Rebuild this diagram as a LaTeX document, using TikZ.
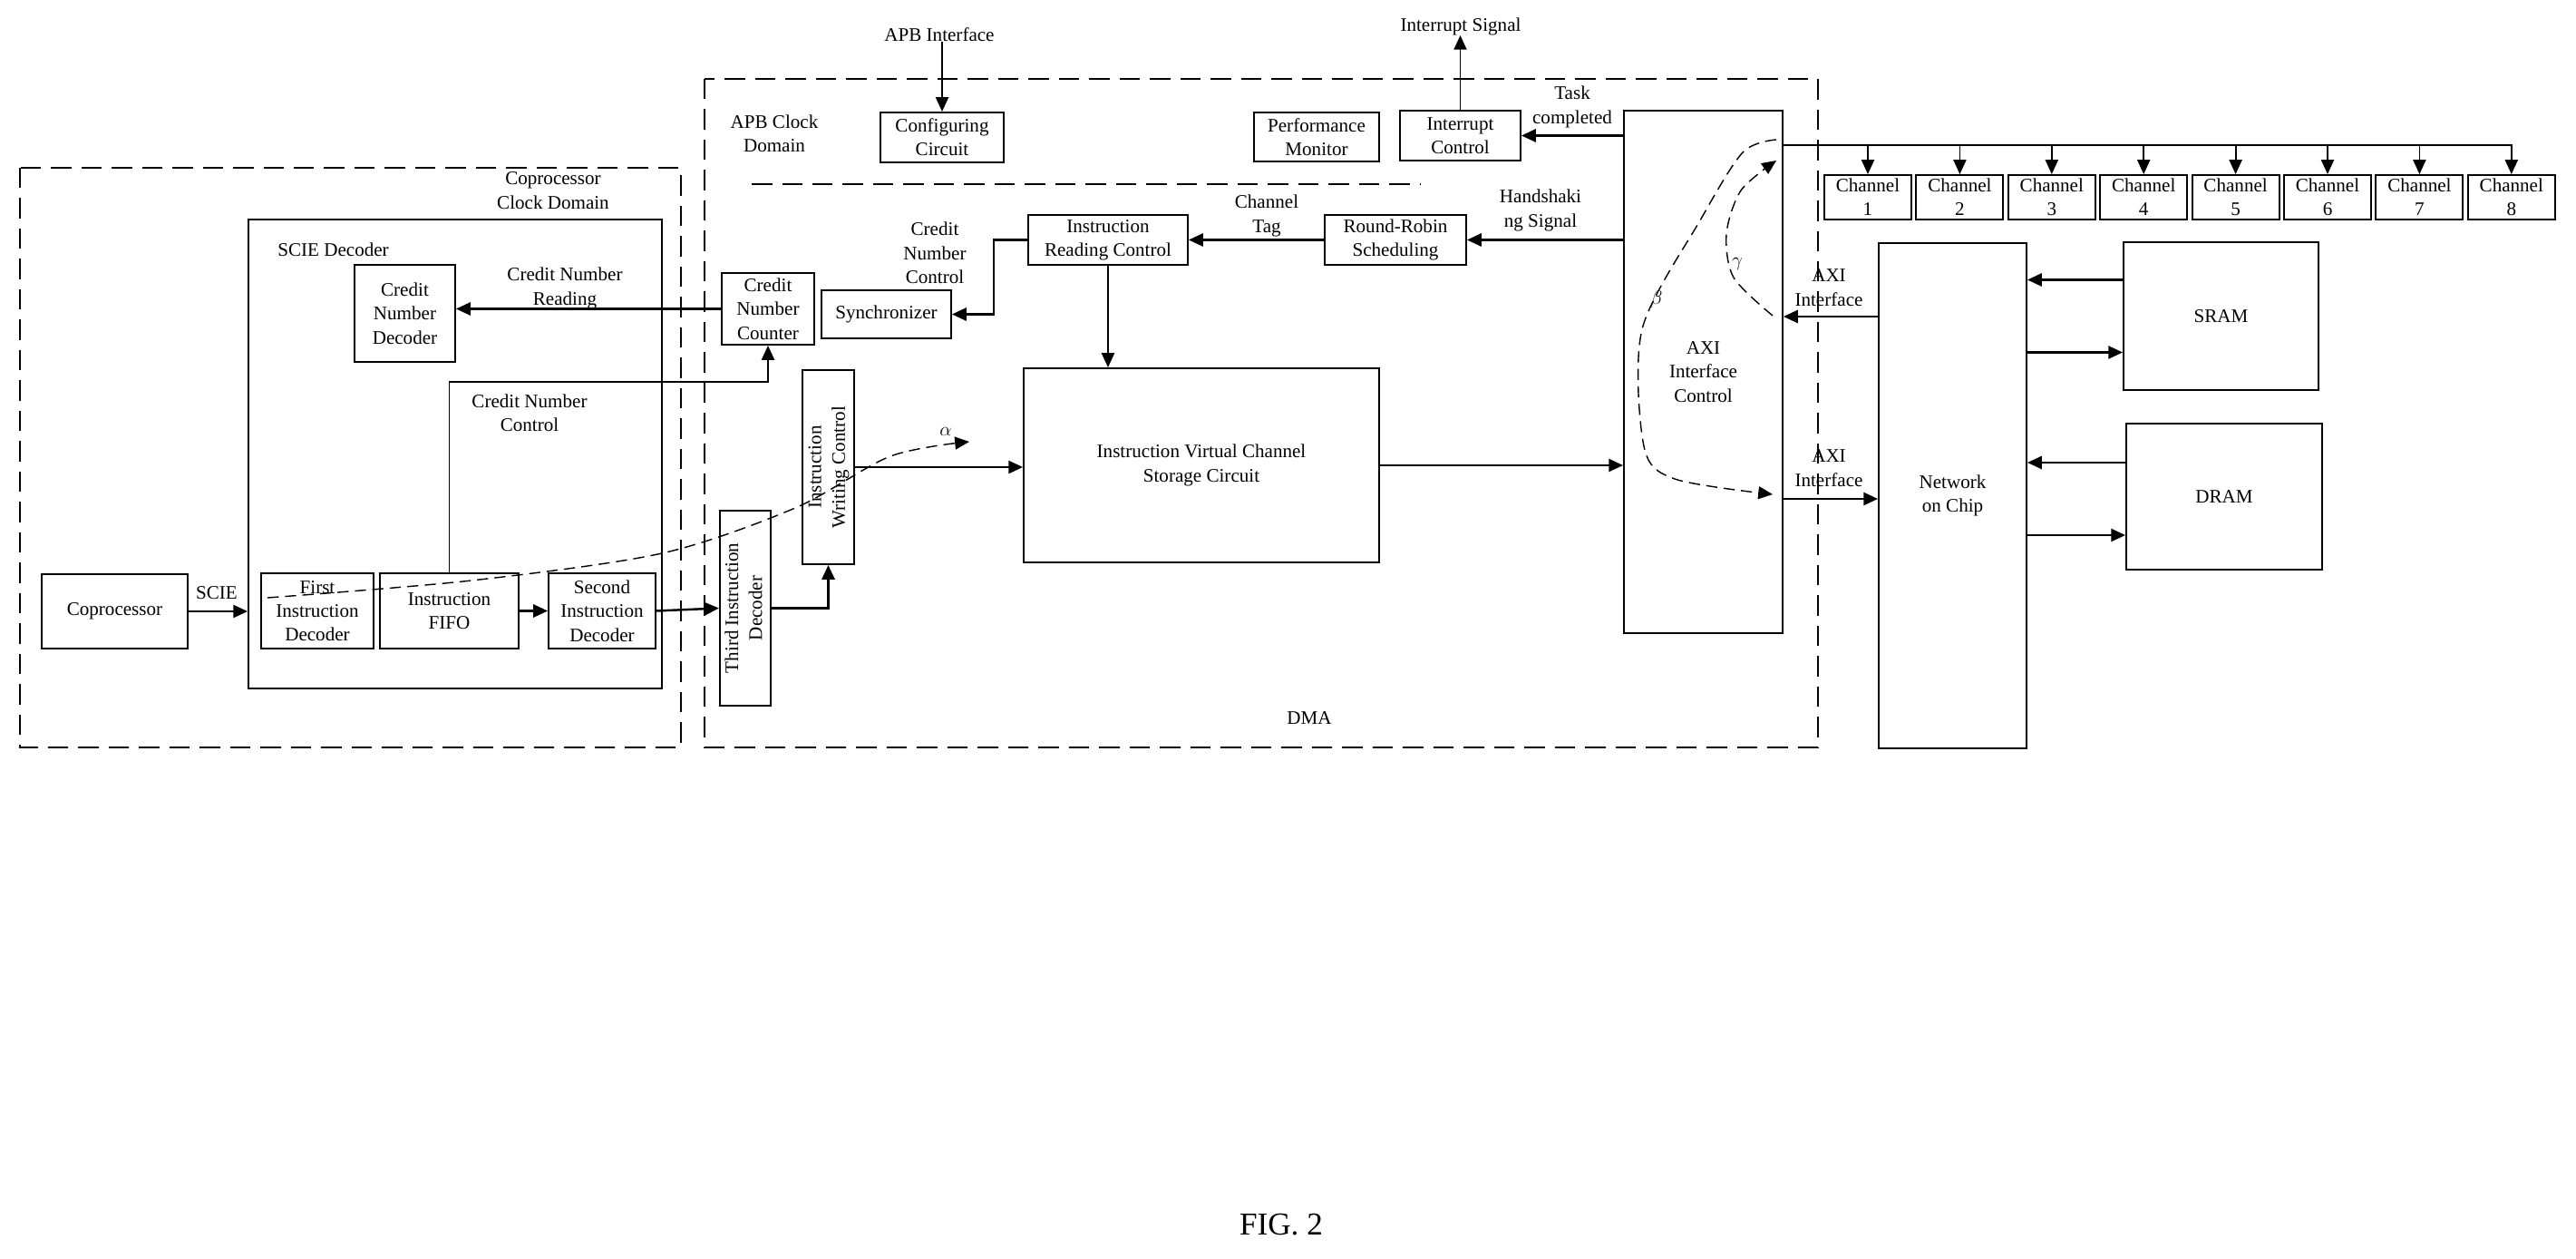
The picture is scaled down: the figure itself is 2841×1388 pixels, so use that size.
\documentclass[tikz,border=0pt]{standalone}
\usepackage{fontspec}
\setmainfont{Liberation Serif}
\usepackage{tikz}
\usetikzlibrary{arrows.meta, positioning}

\begin{document}
\begin{tikzpicture}[
    x=0.02cm, y=-0.02cm,
    box/.style={rectangle, draw, line width=1.1pt, align=center, inner sep=1pt, font=\fontsize{12}{15}\selectfont},
    label/.style={align=center, inner sep=0pt, font=\fontsize{12}{15}\selectfont},
    arrow/.style={-{Triangle[length=9pt, width=8pt]}, line width=1.4pt},
    clockdom/.style={line width=1.4pt, dash pattern=on 0.45cm off 0.22cm},
    datapath/.style={line width=0.8pt, dash pattern=on 7pt off 4pt, -{Triangle[length=9pt, width=8pt]}}
]
    \useasboundingbox (0,0) rectangle (2841,1388);

    % clock domains
    \draw[clockdom] (22,185) rectangle (751,824);
    \draw[clockdom] (777,87) rectangle (2005,824);
    \draw[clockdom] (829,203) -- (1567,203);
    \node[label] (copdom) at (610,210) {Coprocessor\\Clock Domain};
    \node[label] (apbdom) at (854,147) {APB Clock\\Domain};
    \node[label] (dma) at (1444,792) {DMA};

    % coprocessor side
    \node[box, minimum width=9.12cm, minimum height=10.34cm] (scie) at (502,500.5) {};
    \node[label, anchor=west] (sciename) at (306,275) {SCIE Decoder};
    \node[box, minimum width=3.22cm, minimum height=1.64cm] (cop) at (126.5,674) {Coprocessor};
    \node[box, minimum width=2.48cm, minimum height=1.66cm] (first) at (350,673.5) {First\\Instruction\\Decoder};
    \node[box, minimum width=3.06cm, minimum height=1.66cm] (fifo) at (495.5,673.5) {Instruction\\FIFO};
    \node[box, minimum width=2.36cm, minimum height=1.66cm] (second) at (664,673.5) {Second\\Instruction\\Decoder};
    \node[box, minimum width=2.22cm, minimum height=2.14cm] (cnd) at (446.5,345.5) {Credit\\Number\\Decoder};
    \node[box, minimum width=2.04cm, minimum height=1.58cm] (cnc) at (847,340.5) {Credit\\Number\\Counter};
    \node[box, minimum width=2.86cm, minimum height=1.06cm] (sync) at (977.5,346.5) {Synchronizer};
    \node[box, minimum width=1.08cm, minimum height=4.3cm] (third) at (822,670.5)
        {\rotatebox{90}{\begin{tabular}{@{}c@{}}Third Instruction\\Decoder\end{tabular}}};
    \node[box, minimum width=1.06cm, minimum height=4.28cm] (iwc) at (913.5,515)
        {\rotatebox{90}{\begin{tabular}{@{}c@{}}Instruction\\Writing Control\end{tabular}}};

    % DMA side
    \node[box, minimum width=2.72cm, minimum height=1.1cm] (config) at (1039,151.5) {Configuring\\Circuit};
    \node[box, minimum width=2.76cm, minimum height=1.08cm] (perf) at (1452,151) {Performance\\Monitor};
    \node[box, minimum width=2.66cm, minimum height=1.1cm] (intc) at (1610.5,149.5) {Interrupt\\Control};
    \node[box, minimum width=3.52cm, minimum height=1.1cm] (irc) at (1222,264.5) {Instruction\\Reading Control};
    \node[box, minimum width=3.12cm, minimum height=1.1cm] (rr) at (1539,264.5) {Round-Robin\\Scheduling};
    \node[box, minimum width=7.84cm, minimum height=4.28cm] (ivcs) at (1325,513) {Instruction Virtual Channel\\Storage Circuit};
    \node[box, minimum width=3.5cm, minimum height=11.52cm] (axi) at (1878.5,410) {AXI\\Interface\\Control};

    % outside
    \node[box, minimum width=3.26cm, minimum height=11.14cm] (noc) at (2153.5,546.5) {Network\\on Chip};
    \node[box, minimum width=4.3cm, minimum height=3.26cm] (sram) at (2449.5,348.5) {SRAM};
    \node[box, minimum width=4.32cm, minimum height=3.22cm] (dram) at (2453,547.5) {DRAM};
    \foreach \i in {1,...,8}
        \node[box, minimum width=1.92cm, minimum height=0.98cm] (ch\i) at ({2060+101.4*(\i-1)},217.5) {Channel\\\i};

    % free labels
    \node[label] (apbif) at (1036,38) {APB Interface};
    \node[label] (intsig) at (1611,29) {Interrupt Signal};
    \node[label] (taskdone) at (1734,118) {Task\\completed};
    \node[label] (handshake) at (1699,232) {Handshaki\\ng Signal};
    \node[label] (chtag) at (1397,238) {Channel\\Tag};
    \node[label] (cnctrlA) at (1031,279) {Credit\\Number\\Control};
    \node[label] (cnread) at (623,318) {Credit Number\\Reading};
    \node[label] (cnctrlB) at (584,455) {Credit Number\\Control};
    \node[label] (scielbl) at (239,654) {SCIE};
    \node[label] (axilblA) at (2017,317) {AXI\\Interface};
    \node[label] (axilblB) at (2017,516) {AXI\\Interface};
    \node[label] (alpha) at (1043,476) {$\alpha$};
    \node[label] (beta) at (1827,330) {$\beta$};
    \node[label] (gamma) at (1916,291) {$\gamma$};
    \node[font=\fontsize{20}{24}\selectfont] (fig) at (1413,1350) {FIG. 2};

    % connectors
    \draw[arrow, line width=1pt] (config.north |- apbif.south) -- (config.north);
    \draw[arrow, line width=1pt] (intc.north) -- (intc.north |- intsig.south);
    \draw[arrow] (axi.west |- intc) -- (intc.east);
    \draw[arrow] (axi.west |- rr) -- (rr.east);
    \draw[arrow] (rr.west) -- (irc.east);
    \draw[arrow] (irc.west) -- ++(-37,0) |- (sync.east);
    \draw[arrow, line width=1pt] (irc.south) -- (irc.south |- ivcs.north);
    \draw[arrow] (cnc.west) -- (cnc.west -| cnd.east);
    \draw[arrow, line width=1.1pt] (fifo.north) -- ++(0,-210) -| (cnc.south);
    \draw[arrow] (cop.east) -- (cop.east -| scie.west);
    \draw[arrow] (fifo.east) -- (second.west);
    \draw[arrow] (second.east) -- (third.west);
    \draw[arrow] (third.east) -| (iwc.south);
    \draw[arrow] (iwc.east) -- (iwc.east -| ivcs.west);
    \draw[arrow] (ivcs.east) -- (ivcs.east -| axi.west);

    \coordinate (busend) at (2771,160);
    \draw[line width=1.4pt] (axi.east |- busend) -- (busend);
    \foreach \i in {1,...,8}
        \draw[arrow, line width=1pt] (ch\i.north |- busend) -- (ch\i.north);

    \coordinate (axiin) at (2072,349);
    \coordinate (axiout) at (1966,550);
    \draw[arrow] (axiin) -- (axiin -| axi.east);
    \draw[arrow] (axiout) -- (axiout -| noc.west);

    \coordinate (sramout) at ([yshift=0.8cm]sram.west);
    \coordinate (sramin) at ([yshift=-0.8cm]sram.west);
    \coordinate (dramout) at ([yshift=0.75cm]dram.west);
    \coordinate (dramin) at ([yshift=-0.85cm]dram.west);
    \draw[arrow] (sramout) -- (sramout -| noc.east);
    \draw[arrow] (sramin -| noc.east) -- (sramin);
    \draw[arrow] (dramout) -- (dramout -| noc.east);
    \draw[arrow] (dramin -| noc.east) -- (dramin);

    % data paths
    \draw[datapath] plot[smooth] coordinates {(295,659) (520,640) (730,610) (877,560) (982,503) (1069,487)};
    \draw[datapath] plot[smooth] coordinates {(1959,154) (1922,168) (1875,243) (1811,363) (1813,492) (1847,528) (1955,545)};
    \draw[datapath] plot[smooth] coordinates {(1955,348) (1912,306) (1904,258) (1920,210) (1959,177)};
\end{tikzpicture}
\end{document}
